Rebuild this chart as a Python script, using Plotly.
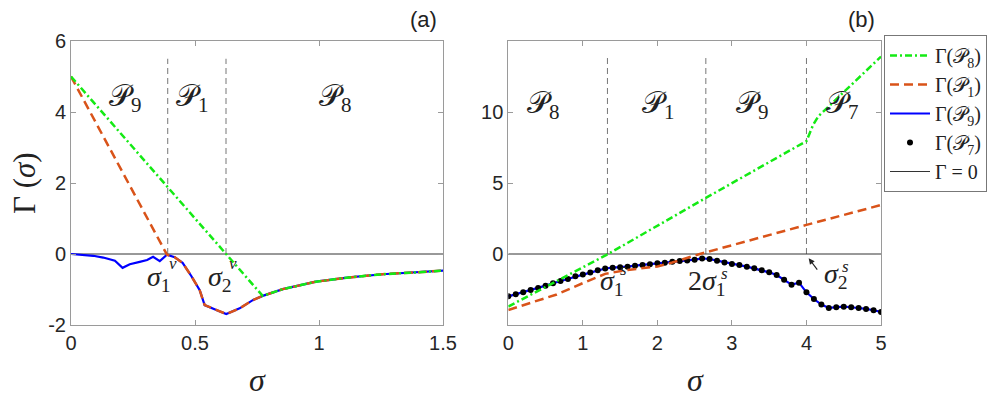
import plotly.graph_objects as go

# ---- panel (a) data ----
sig_a_green = [0, 0.773, 0.854, 0.988, 1.122, 1.256, 1.39, 1.5]
gam_a_green = [5.0, -1.18, -0.99, -0.78, -0.66, -0.57, -0.52, -0.47]

sig_a_orange = [0, 0.387, 0.418, 0.45, 0.485, 0.519, 0.539, 0.586, 0.626, 0.68, 0.733, 0.773,
                0.854, 0.988, 1.122, 1.256, 1.39, 1.5]
gam_a_orange = [5.0, -0.02, -0.09, -0.25, -0.62, -1.02, -1.44, -1.58, -1.69, -1.53, -1.30, -1.18,
                -0.99, -0.78, -0.66, -0.57, -0.52, -0.47]

sig_a_blue = [0, 0.09, 0.13, 0.177, 0.208, 0.237, 0.277, 0.307, 0.331, 0.358, 0.387, 0.418, 0.45,
              0.485, 0.519, 0.539, 0.586, 0.626, 0.68, 0.733, 0.773, 0.854, 0.988, 1.122, 1.256, 1.39, 1.5]
gam_a_blue = [0, -0.05, -0.10, -0.19, -0.39, -0.29, -0.22, -0.17, -0.08, -0.20, -0.02, -0.09, -0.25,
              -0.62, -1.02, -1.44, -1.58, -1.69, -1.53, -1.30, -1.18, -0.99, -0.78, -0.66, -0.57, -0.52, -0.47]

bounds_a = [0.39, 0.625]

# ---- panel (b) data ----
sig_b_green = [0, 1.34, 2.65, 4.0, 4.09, 4.16, 5.0]
gam_b_green = [-3.7, 0, 3.95, 7.95, 9.1, 9.7, 13.9]

sig_b_orange = [0, 0.65, 1.0, 1.3, 1.6, 2.0, 2.2, 2.57, 4.0, 5.0]
gam_b_orange = [-3.94, -2.85, -2.05, -1.4, -1.12, -0.88, -0.6, 0, 2.05, 3.45]

sig_b = [0.0, 0.1, 0.2, 0.3, 0.4, 0.5, 0.6, 0.7, 0.8, 0.9, 1.0, 1.1, 1.2, 1.3, 1.4, 1.5, 1.6, 1.7,
         1.8, 1.9, 2.0, 2.1, 2.2, 2.3, 2.4, 2.5, 2.6, 2.7, 2.8, 2.9, 3.0, 3.1, 3.2, 3.3, 3.4, 3.5,
         3.6, 3.7, 3.8, 3.9, 4.0, 4.1, 4.2, 4.3, 4.4, 4.5, 4.6, 4.7, 4.8, 4.9, 5.0]
gam_b = [-2.98, -2.84, -2.70, -2.54, -2.39, -2.23, -2.06, -1.90, -1.76, -1.57, -1.45, -1.31, -1.15,
         -1.02, -0.96, -0.94, -0.89, -0.82, -0.77, -0.73, -0.66, -0.62, -0.55, -0.50, -0.45, -0.40,
         -0.31, -0.35, -0.47, -0.59, -0.70, -0.78, -0.89, -1.01, -1.15, -1.29, -1.48, -1.81, -2.16,
         -2.02, -2.70, -3.17, -3.56, -3.80, -3.75, -3.71, -3.75, -3.80, -3.87, -3.96, -4.08]

bounds_b = [1.33, 2.65, 4.0]

GREEN = '#14EA14'
ORANGE = '#D95319'
BLUE = '#0000FF'
green_dash = '7px,3px,2px,3px'
orange_dash = '9px,5px'

# the page body adds an 8px margin, so the figure is sized to the rest of the window
W, H, OFF = 989, 391, 8


def px(x):
    return (x - OFF) / W


def py(y):
    return 1 - (y - OFF) / H


fig = go.Figure()


def vlines(bounds, top, xa, ya):
    xs, ys = [], []
    for b in bounds:
        xs += [b, b, None]
        ys += [0, top, None]
    fig.add_trace(go.Scatter(x=xs, y=ys, mode='lines', xaxis=xa, yaxis=ya, showlegend=False,
                             line=dict(color='#777777', width=1, dash='6px,4px'), hoverinfo='skip'))


# panel (a)
vlines(bounds_a, 5.5, 'x', 'y')
fig.add_trace(go.Scatter(x=[0, 1.5], y=[0, 0], mode='lines', xaxis='x', yaxis='y', showlegend=False,
                         line=dict(color='#333333', width=1)))
fig.add_trace(go.Scatter(x=sig_a_blue, y=gam_a_blue, mode='lines', xaxis='x', yaxis='y',
                         showlegend=False, line=dict(color=BLUE, width=2.2)))
fig.add_trace(go.Scatter(x=sig_a_orange, y=gam_a_orange, mode='lines', xaxis='x', yaxis='y',
                         showlegend=False, line=dict(color=ORANGE, width=2.5, dash=orange_dash)))
fig.add_trace(go.Scatter(x=sig_a_green, y=gam_a_green, mode='lines', xaxis='x', yaxis='y',
                         showlegend=False, line=dict(color=GREEN, width=2.5, dash=green_dash)))

# panel (b)
vlines(bounds_b, 13.8, 'x2', 'y2')
fig.add_trace(go.Scatter(x=[0, 5], y=[0, 0], mode='lines', xaxis='x2', yaxis='y2',
                         name='Γ = 0', legendrank=5, line=dict(color='#333333', width=1)))
fig.add_trace(go.Scatter(x=sig_b, y=gam_b, mode='lines', xaxis='x2', yaxis='y2',
                         name='Γ(𝒫<sub>9</sub>)', legendrank=3, line=dict(color=BLUE, width=2.2)))
fig.add_trace(go.Scatter(x=sig_b, y=gam_b, mode='markers', xaxis='x2', yaxis='y2',
                         name='Γ(𝒫<sub>7</sub>)', legendrank=4, marker=dict(color='black', size=6)))
fig.add_trace(go.Scatter(x=sig_b_orange, y=gam_b_orange, mode='lines', xaxis='x2', yaxis='y2',
                         name='Γ(𝒫<sub>1</sub>)', legendrank=2,
                         line=dict(color=ORANGE, width=2.5, dash=orange_dash)))
fig.add_trace(go.Scatter(x=sig_b_green, y=gam_b_green, mode='lines', xaxis='x2', yaxis='y2',
                         name='Γ(𝒫<sub>8</sub>)', legendrank=1,
                         line=dict(color=GREEN, width=2.5, dash=green_dash)))

tick_font = dict(family='Liberation Sans, Arial', size=20, color='#262626')
ax_common = dict(showgrid=False, zeroline=False, showline=True, linecolor='#9a9a9a', linewidth=1,
                 mirror='allticks', ticks='inside', ticklen=5, tickcolor='#9a9a9a', tickfont=tick_font)

y_dom = [py(325), py(41)]
fig.update_layout(
    width=W, height=H, margin=dict(l=0, r=0, t=0, b=0, autoexpand=False),
    paper_bgcolor='white', plot_bgcolor='white',
    xaxis=dict(domain=[px(71), px(443)], range=[0, 1.5], anchor='y',
               tickvals=[0, 0.5, 1, 1.5], ticktext=['0', '0.5', '1', '1.5'], **ax_common),
    yaxis=dict(domain=y_dom, range=[-2, 6], anchor='x',
               tickvals=[-2, 0, 2, 4, 6], ticktext=['-2', '0', '2', '4', '6'], **ax_common),
    xaxis2=dict(domain=[px(508.3), px(881)], range=[0, 5], anchor='y2',
                tickvals=[0, 1, 2, 3, 4, 5], ticktext=['0', '1', '2', '3', '4', '5'], **ax_common),
    yaxis2=dict(domain=y_dom, range=[-5, 15], anchor='x2',
                tickvals=[0, 5, 10], ticktext=['0', '5', '10'], **ax_common),
    legend=dict(x=px(884), y=py(35), xanchor='left', yanchor='top',
                bordercolor='#777777', borderwidth=1, bgcolor='white',
                font=dict(family='Liberation Serif, DejaVu Serif', size=20, color='#222222'),
                itemwidth=40, tracegroupgap=0),
    showlegend=True,
)

serif = 'Liberation Serif, DejaVu Serif'
big = dict(family=serif, size=30, color='#222222')
mid = dict(family=serif, size=28, color='#222222')
small = dict(family=serif, size=17, color='#222222')

ann = []
# region labels
for xr, yr, x, y, t in [('x', 'y', 0.221, 4.4, '𝒫<sub>9</sub>'), ('x', 'y', 0.49, 4.4, '𝒫<sub>1</sub>'),
                        ('x', 'y', 1.066, 4.4, '𝒫<sub>8</sub>'),
                        ('x2', 'y2', 0.47, 10.5, '𝒫<sub>8</sub>'), ('x2', 'y2', 2.01, 10.5, '𝒫<sub>1</sub>'),
                        ('x2', 'y2', 3.28, 10.5, '𝒫<sub>9</sub>'), ('x2', 'y2', 4.49, 10.5, '𝒫<sub>7</sub>')]:
    ann.append(dict(xref=xr, yref=yr, x=x, y=y, text=t, showarrow=False, font=big,
                    xanchor='center', yanchor='middle'))

# boundary labels: main text + superscript stacked over the subscript
for xr, yr, x, y, t, xs, ys, s in [
        ('x', 'y', 0.354, -0.68, '<i>σ</i><sub>1</sub>', 0.41, -0.28, 'v'),
        ('x', 'y', 0.60, -0.68, '<i>σ</i><sub>2</sub>', 0.655, -0.28, 'v'),
        ('x2', 'y2', 1.39, -1.98, '<i>σ</i><sub>1</sub>', 1.55, -1.12, 's'),
        ('x2', 'y2', 2.66, -1.98, '2<i>σ</i><sub>1</sub>', 2.90, -1.36, 's'),
        ('x2', 'y2', 4.40, -1.52, '<i>σ</i><sub>2</sub>', 4.52, -0.88, 's')]:
    ann.append(dict(xref=xr, yref=yr, x=x, y=y, text=t, showarrow=False, font=mid,
                    xanchor='center', yanchor='middle'))
    ann.append(dict(xref=xr, yref=yr, x=xs, y=ys, text='<i>' + s + '</i>', showarrow=False, font=small,
                    xanchor='center', yanchor='middle'))

# arrow to sigma_2^s
ann.append(dict(xref='x2', yref='y2', x=4.03, y=-0.3, axref='x2', ayref='y2', ax=4.16, ay=-1.2,
                text='', showarrow=True, arrowhead=2, arrowsize=1, arrowwidth=1.2, arrowcolor='#222222'))

# axis titles and panel tags (positions in screen px)
for x, y, t, f, ang in [(257, 380, '<i>σ</i>', dict(family=serif, size=32), 0),
                        (695, 380, '<i>σ</i>', dict(family=serif, size=32), 0),
                        (24, 183, 'Γ (<i>σ</i>)', dict(family=serif, size=31), -90),
                        (423, 19, '(a)', dict(family='Liberation Sans, Arial', size=22), 0),
                        (861, 19, '(b)', dict(family='Liberation Sans, Arial', size=22), 0)]:
    f['color'] = '#222222'
    ann.append(dict(xref='paper', yref='paper', x=px(x), y=py(y), text=t, textangle=ang,
                    showarrow=False, font=f, xanchor='center', yanchor='middle'))

fig.update_layout(annotations=ann)
fig.write_html('out.html')
